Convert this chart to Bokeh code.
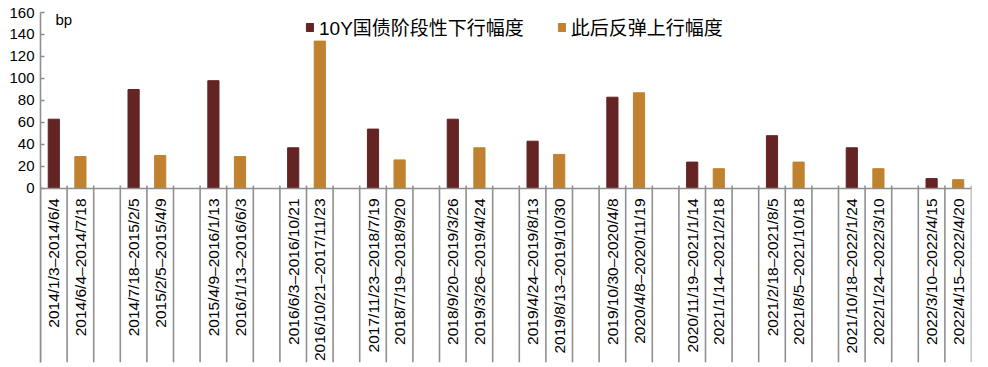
import math
from bokeh.plotting import figure
from bokeh.models import (ColumnDataSource, Range1d, FixedTicker, Span, Legend,
                          LegendItem, Label)
from bokeh.core.properties import value
from bokeh.embed import file_html
from bokeh.resources import INLINE

# ---- data ----
down_periods = ["2014/1/3\u20132014/6/4", "2014/7/18\u20132015/2/5", "2015/4/9\u20132016/1/13",
                "2016/6/3\u20132016/10/21", "2017/11/23\u20132018/7/19", "2018/9/20\u20132019/3/26",
                "2019/4/24\u20132019/8/13", "2019/10/30\u20132020/4/8", "2020/11/19\u20132021/1/14",
                "2021/2/18\u20132021/8/5", "2021/10/18\u20132022/1/24", "2022/3/10\u20132022/4/15"]
up_periods = ["2014/6/4\u20132014/7/18", "2015/2/5\u20132015/4/9", "2016/1/13\u20132016/6/3",
              "2016/10/21\u20132017/11/23", "2018/7/19\u20132018/9/20", "2019/3/26\u20132019/4/24",
              "2019/8/13\u20132019/10/30", "2020/4/8\u20132020/11/19", "2021/1/14\u20132021/2/18",
              "2021/8/5\u20132021/10/18", "2022/1/24\u20132022/3/10", "2022/4/15\u20132022/4/20"]
down_bp = [63, 90, 98, 37, 54, 63, 43, 83, 24, 48, 37, 9]
up_bp = [29, 30, 29, 134, 26, 37, 31, 87, 18, 24, 18, 8]
y_ticks = [0, 20, 40, 60, 80, 100, 120, 140, 160]
series_names = ["10Y国债阶段性下行幅度", "此后反弹上行幅度"]
unit_label = "bp"

# ---- layout: each group = down slot, up slot, blank slot (last group without blank) ----
n = len(down_bp)
n_slots = 3 * n - 1
x_down = [3 * i + 0.5 for i in range(n)]
x_up = [3 * i + 1.5 for i in range(n)]

DARK = "#632423"
GOLD = "#C0822E"
GRAY = "#8f8f8f"
FONT = "Liberation Sans, Noto Sans CJK SC"

y_bottom = -158.2
p = figure(width=988, height=367, output_backend="svg", toolbar_location=None,
           x_range=Range1d(0, n_slots), y_range=Range1d(y_bottom, 160),
           x_axis_location=None, min_border_left=40, min_border_right=17,
           min_border_top=12, min_border_bottom=5)
p.outline_line_color = None
p.xgrid.visible = False
p.ygrid.visible = False

src_d = ColumnDataSource(dict(x=x_down, top=down_bp, label=down_periods))
src_u = ColumnDataSource(dict(x=x_up, top=up_bp, label=up_periods))
r1 = p.vbar(x="x", top="top", bottom=0, width=0.42, source=src_d,
            fill_color=DARK, line_color=DARK)
r2 = p.vbar(x="x", top="top", bottom=0, width=0.42, source=src_u,
            fill_color=GOLD, line_color=GOLD)

# separators of category axis
seps = list(range(0, n_slots + 1))
p.segment(x0=seps, x1=seps, y0=[y_bottom] * len(seps), y1=[2.8] * len(seps),
          line_color=GRAY, line_width=1.6)
p.add_layout(Span(location=0, dimension="width", line_color=GRAY, line_width=1.6))

# category labels (rotated)
for src in (src_d, src_u):
    p.text(x="x", y=-9, text="label", source=src, angle=math.pi / 2,
           text_align="right", text_baseline="middle",
           text_font=value(FONT), text_font_size="15.5px", text_color="#000000")

# y axis
ax = p.yaxis[0]
ax.ticker = FixedTicker(ticks=y_ticks)
ax.major_tick_in = 4
ax.major_tick_out = 0
ax.minor_tick_line_color = None
ax.axis_line_color = GRAY
ax.axis_line_width = 1.6
ax.major_tick_line_color = GRAY
ax.major_tick_line_width = 1.6
ax.major_label_standoff = 6
ax.major_label_text_font = FONT
ax.major_label_text_font_size = "15px"
ax.major_label_text_color = "#000000"

p.add_layout(Label(x=15, y=343, x_units="screen", y_units="screen", text=unit_label,
                   text_font=FONT, text_font_size="15px", text_baseline="middle",
                   text_color="#000000"))

legend = Legend(items=[LegendItem(label=series_names[0], renderers=[r1]),
                       LegendItem(label=series_names[1], renderers=[r2])],
                location=(265, 322), orientation="horizontal",
                glyph_width=9, glyph_height=10, label_standoff=5, spacing=33,
                padding=0, margin=0, background_fill_alpha=0, border_line_alpha=0,
                label_text_font=FONT, label_text_font_size="19px",
                label_text_color="#000000")
p.add_layout(legend)

open("out.html", "w").write(file_html(p, INLINE))
